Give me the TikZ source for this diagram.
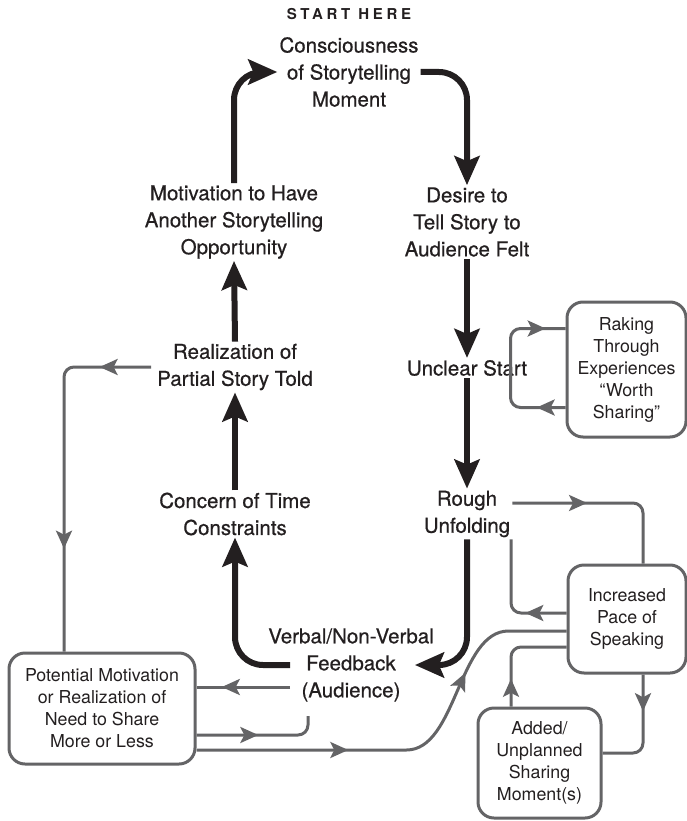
\documentclass[tikz,border=0pt]{standalone}
\usepackage{fontspec}
\setmainfont{TeX Gyre Heros}
\newfontfamily\headfont[LetterSpace=25]{TeX Gyre Heros}
\newfontfamily\stagefam[FakeBold=0.6]{TeX Gyre Heros}
\usetikzlibrary{arrows.meta}
\usetikzlibrary{decorations.markings}
\definecolor{ink}{HTML}{231F20}
\definecolor{linegray}{HTML}{646466}
\newcommand{\stagefont}{\stagefam\fontsize{20.5}{27}\selectfont}
\newcommand{\boxfont}{\fontsize{17.8}{22}\selectfont}

\begin{document}
\begin{tikzpicture}[x=1pt,y=-1pt,
  stage/.style={align=center,font=\stagefont,text=ink,inner sep=2pt},
  sidebox/.style={draw=linegray,line width=3pt,rounded corners=16pt,align=center,font=\boxfont,text=ink,inner sep=0pt},
  loopline/.style={draw=ink,line width=6pt,rounded corners=28pt,-{Stealth[length=29pt,width=25pt,inset=5pt]}},
  sideline/.style={draw=linegray,line width=3pt,rounded corners=10pt},
  gtip/.style={postaction={decorate,decoration={markings,mark=at position #1 with {\arrow{Stealth[length=18pt,width=16pt,inset=4pt]}}}}}
]
\useasboundingbox (0,0) rectangle (687,821);

\node[stage] (start) at (349,14) {\headfont\bfseries\fontsize{15}{17}\selectfont START HERE};
\node[stage] (cons) at (349,72) {Consciousness\\of Storytelling\\Moment};
\node[stage] (desire) at (467,222) {Desire to\\Tell Story to\\Audience Felt};
\node[stage] (motiv) at (234,222) {Motivation to Have\\Another Storytelling\\Opportunity};
\node[stage] (unclear) at (467,368) {Unclear Start};
\node[stage] (real) at (235,367) {Realization of\\Partial Story Told};
\node[stage] (rough) at (467,514) {Rough\\Unfolding};
\node[stage] (concern) at (235,514) {Concern of Time\\Constraints};
\node[stage] (feed) at (351,665) {Verbal/Non-Verbal\\Feedback\\(Audience)};

\node[sidebox,minimum width=186pt,minimum height=111pt] (pot) at (102,708.5) {Potential Motivation\\or Realization of\\Need to Share\\More or Less};
\node[sidebox,minimum width=118pt,minimum height=108pt] (pace) at (627,619) {Increased\\Pace of\\Speaking};
\node[sidebox,minimum width=123pt,minimum height=110pt] (added) at (539.5,763) {Added/\\Unplanned\\Sharing\\Moment(s)};
\node[sidebox,minimum width=119pt,minimum height=135pt] (rake) at (626.5,369.5) {Raking\\Through\\Experiences\\“Worth\\Sharing”};

% main loop
\draw[loopline] (motiv.north) |- (cons.west);
\draw[loopline] (cons.east) -| (desire.north);
\draw[loopline] (desire.south) -- (unclear.north);
\draw[loopline] (unclear.south) -- (rough.north);
\draw[loopline] (rough.south) |- ([xshift=-21pt]feed.east);
\draw[loopline] ([xshift=24pt]feed.west) -| (concern.south);
\draw[loopline] (concern.north) -- (real.south);
\draw[loopline] (real.north) -- (motiv.south);

% side loops
\draw[sideline,gtip=0.14,gtip=0.72] ([xshift=-4pt]real.west) -| ([xshift=-38pt]pot.north);
\draw[sideline,gtip=0.16,gtip=0.89] ([yshift=-38pt]rake.west) -- ++(-55,0) |- ([yshift=41pt]rake.west);
\draw[sideline,gtip=0.40] ([yshift=11pt]rough.east) -| ([xshift=16pt]pace.north);
\draw[sideline,gtip=0.33] ([yshift=6pt]pace.west) -| ([xshift=44pt]rough.south);
\draw[sideline,gtip=0.32] ([xshift=16pt]pace.south) |- ([yshift=10pt]added.east);
\draw[sideline,gtip=0.25] ([xshift=-28.5pt]added.north) |- ([yshift=-28pt]pace.west);
\draw[sideline,gtip=0.35,gtip=0.72] ([yshift=-41.5pt]pot.east) -- ++(200,0) to[out=0,in=180,looseness=0.9] ([xshift=-48pt,yshift=-12pt]pace.west) -- ([yshift=-12pt]pace.west);
\draw[sideline,gtip=0.73] ([xshift=24pt,yshift=-22pt]feed.west) -- ([yshift=21.5pt]pot.east);
\draw[sideline,gtip=0.49] ([yshift=-26.5pt]pot.east) -| ([xshift=-43pt,yshift=-51pt]feed.center);
\end{tikzpicture}
\end{document}
